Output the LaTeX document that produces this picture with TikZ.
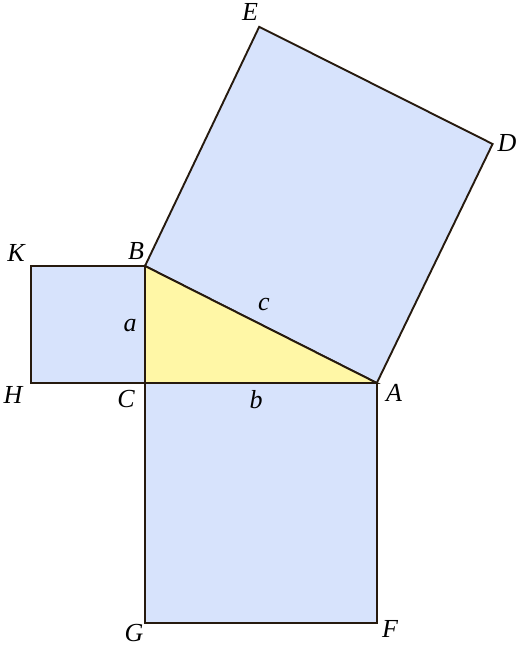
\documentclass[tikz,border=0pt]{standalone}
\usepackage{fontspec}
\setmainfont{Liberation Serif}

\tikzset{every picture/.style={line width=1.9pt}}
\definecolor{sqblue}{RGB}{215,227,252}
\definecolor{triyellow}{RGB}{255,247,166}
\definecolor{edgebrown}{RGB}{38,26,14}
\tikzset{
  sqface/.style={fill=sqblue, draw=edgebrown, line join=miter},
  triface/.style={fill=triyellow, draw=edgebrown, line join=miter},
  ptlabel/.style={inner sep=0.5pt, font={\fontsize{26pt}{30pt}\selectfont\itshape}}
}

\begin{document}
\begin{tikzpicture}[x=1pt,y=1pt,yscale=-1,xscale=1]
            \useasboundingbox (0,0) rectangle (518,648);

            % corners
            \coordinate (C) at (145,383);
            \coordinate (A) at (376.8,383);
            \coordinate (B) at (145,266);
            \coordinate (K) at (30.7,266);
            \coordinate (H) at (30.7,383);
            \coordinate (G) at (145,623);
            \coordinate (F) at (376.8,623);
            \coordinate (E) at (259.2,26.8);
            \coordinate (D) at (492.6,144);

            %Shape: square on a
            \draw [sqface] (K) -- (B) -- (C) -- (H) -- cycle ;
            %Shape: square on b
            \draw [sqface] (C) -- (A) -- (F) -- (G) -- cycle ;
            %Shape: square on c
            \draw [sqface] (B) -- (E) -- (D) -- (A) -- cycle ;
            %Shape: triangle
            \draw [triface] (B) -- (C) -- (A) -- cycle ;

            % Text Node
            \node (lblE) at (250,12) [ptlabel] {E};
            % Text Node
            \node (lblD) at (507,143) [ptlabel] {D};
            % Text Node
            \node (lblK) at (16,253) [ptlabel] {K};
            % Text Node
            \node (lblB) at (136,251) [ptlabel] {B};
            % Text Node
            \node (lblH) at (13,395) [ptlabel] {H};
            % Text Node
            \node (lblC) at (126,399) [ptlabel] {C};
            % Text Node
            \node (lblA) at (394,393) [ptlabel] {A};
            % Text Node
            \node (lblG) at (134,633) [ptlabel] {G};
            % Text Node
            \node (lblF) at (390,629) [ptlabel] {F};
            % Text Node
            \node (lbla) at (130,326) [ptlabel] {a};
            % Text Node
            \node (lblb) at (256,400) [ptlabel] {b};
            % Text Node
            \node (lblc) at (264,304) [ptlabel] {c};

\end{tikzpicture}
\end{document}
